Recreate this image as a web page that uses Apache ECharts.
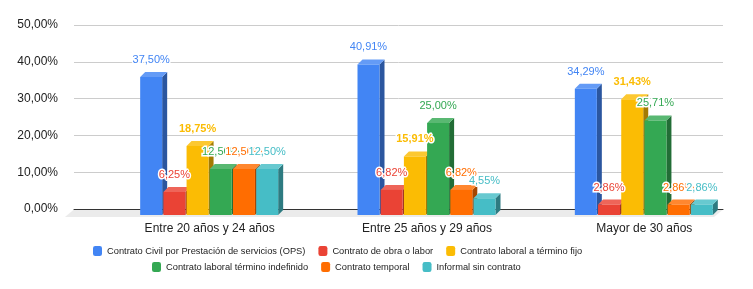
<!DOCTYPE html>
<html>
<head>
<meta charset="utf-8">
<script src="https://cdn.jsdelivr.net/npm/echarts@6/dist/echarts.min.js"></script>
<style>
  html, body { margin: 0; padding: 0; background: #fff; }
  #chart { width: 753px; height: 289px; }
</style>
</head>
<body>
<div id="chart"></div>
<script>
const categories = ['Entre 20 años y 24 años', 'Entre 25 años y 29 años', 'Mayor de 30 años'];
const seriesNames = [
  'Contrato Civil por Prestación de servicios (OPS)',
  'Contrato de obra o labor',
  'Contrato laboral a término fijo',
  'Contrato laboral término indefinido',
  'Contrato temporal',
  'Informal sin contrato'
];
const ops = [37.50, 40.91, 34.29];
const obraLabor = [6.25, 6.82, 2.86];
const terminoFijo = [18.75, 15.91, 31.43];
const indefinido = [12.50, 25.00, 25.71];
const temporal = [12.50, 6.82, 2.86];
const informal = [12.50, 4.55, 2.86];
const seriesValues = [ops, obraLabor, terminoFijo, indefinido, temporal, informal];
const colors = ['#4285f4', '#ea4335', '#fbbc04', '#34a853', '#ff6d01', '#46bdc6'];

const fmt = v => v.toFixed(2).replace('.', ',') + '%';

// mix a hex colour toward black (t<0) or white (t>0)
function shade(hex, t) {
  const n = parseInt(hex.slice(1), 16);
  let r = (n >> 16) & 255, g = (n >> 8) & 255, b = n & 255;
  const tgt = t < 0 ? 0 : 255, a = Math.abs(t);
  r = Math.round(r + (tgt - r) * a);
  g = Math.round(g + (tgt - g) * a);
  b = Math.round(b + (tgt - b) * a);
  return 'rgb(' + r + ',' + g + ',' + b + ')';
}

const chart = echarts.init(document.getElementById('chart'));

// 3d-ish bars: front face + side + top
const PITCH = 23.2, BW = 22, DX = 5, DY = 5;

function renderItem(params, api) {
  const idx = params.seriesIndex;
  const cat = api.value(0);
  const val = api.value(1);
  const base = api.coord([cat, 0]);
  const top = api.coord([cat, val]);
  const x0 = base[0] - 69.5 + idx * PITCH;
  const x1 = x0 + BW;
  const y0 = base[1];
  const y1 = top[1];
  const c = colors[idx];
  return {
    type: 'group',
    children: [
      {
        type: 'polygon',
        shape: { points: [[x1, y0], [x1 + DX, y0 - DY], [x1 + DX, y1 - DY], [x1, y1]] },
        style: { fill: shade(c, -0.35) }
      },
      {
        type: 'polygon',
        shape: { points: [[x0, y1], [x0 + DX, y1 - DY], [x1 + DX, y1 - DY], [x1, y1]] },
        style: { fill: shade(c, 0.18) }
      },
      {
        type: 'rect',
        shape: { x: x0, y: y1, width: BW, height: y0 - y1 },
        style: { fill: c }
      },
      {
        type: 'text',
        z2: 100,
        x: (x0 + x1) / 2,
        y: y1 - 17,
        style: {
          text: fmt(val),
          fill: c,
          stroke: '#fff',
          lineWidth: 3,
          fontSize: 11,
          fontWeight: idx === 2 ? 'bold' : 'normal',
          fontFamily: 'Arial, "Liberation Sans", sans-serif',
          align: 'center',
          verticalAlign: 'middle'
        }
      }
    ]
  };
}

const legendText = { fontSize: 9.3, color: '#222', fontFamily: 'Arial, "Liberation Sans", sans-serif' };

const option = {
  backgroundColor: '#fff',
  color: colors,
  animation: false,
  textStyle: { fontFamily: 'Arial, "Liberation Sans", sans-serif' },
  legend: [
    {
      data: seriesNames.slice(0, 3),
      left: 93, top: 246, padding: 0,
      icon: 'roundRect', itemWidth: 9, itemHeight: 10, itemGap: 13,
      textStyle: legendText
    },
    {
      data: seriesNames.slice(3),
      left: 152, top: 262, padding: 0,
      icon: 'roundRect', itemWidth: 9, itemHeight: 10, itemGap: 13,
      textStyle: legendText
    }
  ],
  graphic: [
    {
      type: 'polygon',
      z: -1,
      shape: { points: [[74, 209.5], [723, 209.5], [714, 217], [65, 217]] },
      style: { fill: '#ebebeb' }
    }
  ],
  grid: [
    { left: 74, right: 30, top: 25, bottom: 80 },
    { left: 101, right: -6, top: 31, bottom: 74 }
  ],
  xAxis: [
    {
      gridIndex: 0, type: 'category', data: categories,
      axisLabel: { show: false }, axisTick: { show: false },
      axisLine: { show: true, lineStyle: { color: '#333', width: 1 } }
    },
    {
      gridIndex: 1, type: 'category', data: categories,
      axisLine: { show: false }, axisTick: { show: false },
      axisLabel: { fontSize: 12, color: '#222', margin: 8 }
    }
  ],
  yAxis: [
    {
      gridIndex: 0, type: 'value', min: 0, max: 50, interval: 10,
      axisLine: { show: false }, axisTick: { show: false },
      axisLabel: { formatter: fmt, fontSize: 12, color: '#222', margin: 16 },
      splitLine: { lineStyle: { color: '#ccc' } }
    },
    {
      gridIndex: 1, type: 'value', min: 0, max: 50, interval: 10, show: false,
      splitLine: { show: false }
    }
  ],
  series: seriesValues.map((vals, i) => ({
    name: seriesNames[i],
    type: 'custom',
    xAxisIndex: 1,
    yAxisIndex: 1,
    itemStyle: { color: colors[i] },
    renderItem: renderItem,
    encode: { x: 0, y: 1 },
    data: vals.map((v, j) => [j, v])
  }))
};

chart.setOption(option);
</script>
</body>
</html>
